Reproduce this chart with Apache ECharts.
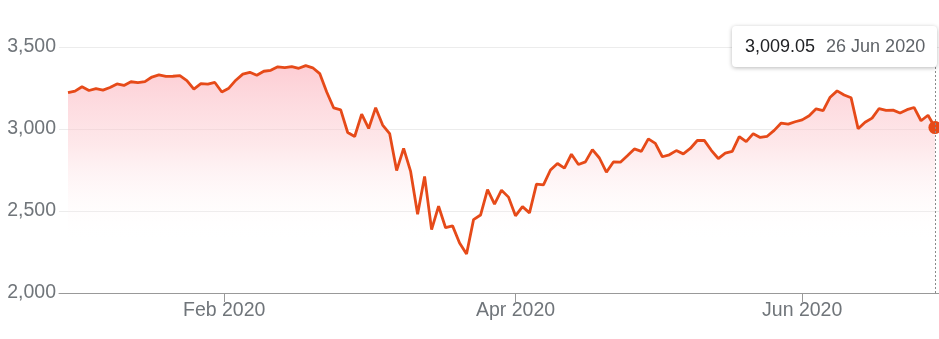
<!DOCTYPE html>
<html>
<head>
<meta charset="utf-8">
<script src="https://cdn.jsdelivr.net/npm/echarts@6/dist/echarts.min.js"></script>
<style>
html,body{margin:0;padding:0;background:#fff;}
#chart{width:939px;height:339px;}
</style>
</head>
<body>
<div id="chart"></div>
<script>
// Trading calendar (category labels)
const startDate = '2019-12-30';
const endDate = '2020-06-26';
const marketHolidays = ['2020-01-01','2020-01-20','2020-02-17','2020-04-10','2020-05-25'];

// Daily closing values, one per trading day
const closes = [
  3221.29, 3230.78,
  3257.85, 3234.85, 3246.28, 3237.18, 3253.05, 3274.70, 3265.35, 3288.13, 3283.15, 3289.29,
  3316.81, 3329.62, 3320.79, 3321.75, 3325.54, 3295.47, 3243.63, 3276.24, 3273.40, 3283.66, 3225.52,
  3248.92, 3297.59, 3334.69, 3345.78, 3327.71, 3352.09, 3357.75, 3379.45, 3373.94, 3380.16,
  3370.29, 3386.15, 3373.23, 3337.75, 3225.89, 3128.21, 3116.39, 2978.76, 2954.22,
  3090.23, 3003.37, 3130.12, 3023.94, 2972.37, 2746.56, 2882.23, 2741.38, 2480.64, 2711.02,
  2386.13, 2529.19, 2398.10, 2409.39, 2304.92, 2237.40, 2447.33, 2475.56, 2630.07, 2541.47,
  2626.65, 2584.59,
  2470.50, 2526.90, 2488.65, 2663.68, 2659.41, 2749.98, 2789.82, 2761.63, 2846.06, 2783.36,
  2799.55, 2874.56, 2823.16, 2736.56, 2799.31, 2797.80, 2836.74, 2878.48, 2863.39, 2939.51, 2912.43,
  2830.71, 2842.74, 2868.44, 2848.42, 2881.19, 2929.80, 2930.32, 2870.12, 2820.00, 2852.50,
  2863.70, 2953.91, 2922.94, 2971.61, 2948.51, 2955.45, 2991.77, 3036.13, 3029.73, 3044.31,
  3055.73, 3080.82, 3122.87, 3112.35, 3193.93, 3232.39, 3207.18, 3190.14, 3002.10, 3041.31,
  3066.59, 3124.74, 3113.49, 3115.34, 3097.74, 3117.86, 3131.29, 3050.33, 3083.76, 3009.05
];

// Axis ticks
const yTicks = [2000, 2500, 3000, 3500];
const xTickDates = ['2020-02-01', '2020-04-01', '2020-06-01'];
const xTickLabels = ['Feb 2020', 'Apr 2020', 'Jun 2020'];

const monthNames = ['Jan','Feb','Mar','Apr','May','Jun','Jul','Aug','Sep','Oct','Nov','Dec'];
const DAY = 86400000;
const toTime = s => Date.parse(s + 'T00:00:00Z');

// build trading dates
const dates = [];
for (let t = toTime(startDate); t <= toTime(endDate); t += DAY) {
  const d = new Date(t);
  const wd = d.getUTCDay();
  const iso = d.toISOString().slice(0, 10);
  if (wd === 0 || wd === 6 || marketHolidays.includes(iso)) continue;
  dates.push(iso);
}

// fractional index of a calendar date on the trading-day axis
function dateToIndex(s) {
  const t = toTime(s);
  for (let i = 0; i < dates.length - 1; i++) {
    const a = toTime(dates[i]), b = toTime(dates[i + 1]);
    if (t >= a && t <= b) return i + (t - a) / (b - a);
  }
  return 0;
}
const xTickPos = xTickDates.map(dateToIndex);

function fmtDate(s) {
  const d = new Date(toTime(s));
  return d.getUTCDate() + ' ' + monthNames[d.getUTCMonth()] + ' ' + d.getUTCFullYear();
}

const seriesData = closes.map((v, i) => [i, v]);
const lastIdx = closes.length - 1;
const FONT = 'Arial, "Liberation Sans", Helvetica, sans-serif';
const LINE = '#e64a19';

const chart = echarts.init(document.getElementById('chart'), null, {renderer: 'canvas'});
chart.setOption({
  animation: false,
  backgroundColor: '#ffffff',
  grid: {left: 59, right: 0, top: 47, bottom: 46, containLabel: false},
  tooltip: {
    trigger: 'axis',
    triggerOn: 'none',
    alwaysShowContent: true,
    transitionDuration: 0,
    showDelay: 0,
    position: [732, 26],
    padding: [9, 12, 9, 13],
    backgroundColor: '#ffffff',
    borderWidth: 0,
    extraCssText: 'box-shadow:0 1px 4px rgba(0,0,0,0.28);border-radius:4px;',
    axisPointer: {
      type: 'line',
      label: {show: false},
      lineStyle: {color: '#8a8a8a', width: 1, type: [2, 2]}
    },
    formatter: function (params) {
      const p = params[0];
      const v = p.value[1].toLocaleString('en-US', {minimumFractionDigits: 2, maximumFractionDigits: 2});
      return '<span style="font-family:' + FONT.replace(/"/g, "'") + ';font-size:18px;line-height:23px;color:#202124;">' + v +
        '</span><span style="font-family:' + FONT.replace(/"/g, "'") + ';font-size:18px;line-height:23px;color:#5f6368;margin-left:11px;">' +
        fmtDate(dates[p.dataIndex]) + '</span>';
    }
  },
  xAxis: {
    type: 'value',
    min: -1.29,
    max: lastIdx + 0.57,
    splitLine: {show: false},
    axisLine: {show: true, lineStyle: {color: '#999999', width: 1}},
    axisTick: {show: true, length: 9, customValues: xTickPos, lineStyle: {color: '#999999'}},
    axisLabel: {
      show: true,
      customValues: xTickPos,
      margin: 8,
      color: '#70757a',
      fontSize: 19.5,
      fontFamily: FONT,
      formatter: function (val) {
        let best = 0, bd = Infinity;
        xTickPos.forEach((p, i) => { const d = Math.abs(p - val); if (d < bd) { bd = d; best = i; } });
        return xTickLabels[best];
      }
    }
  },
  yAxis: {
    type: 'value',
    min: yTicks[0],
    max: yTicks[yTicks.length - 1],
    interval: yTicks[1] - yTicks[0],
    axisLine: {show: false},
    axisTick: {show: false},
    splitLine: {show: true, lineStyle: {color: '#ececec', width: 1}},
    axisLabel: {
      margin: 3,
      color: '#70757a',
      fontSize: 19.5,
      fontFamily: FONT,
      formatter: v => v.toLocaleString('en-US')
    }
  },
  series: [{
    type: 'line',
    data: seriesData,
    showSymbol: true,
    showAllSymbol: true,
    symbol: function (val, params) { return params.dataIndex === lastIdx ? 'circle' : 'none'; },
    symbolSize: 12,
    itemStyle: {color: LINE, borderWidth: 0},
    lineStyle: {color: LINE, width: 2.8},
    emphasis: {disabled: true},
    areaStyle: {
      color: new echarts.graphic.LinearGradient(0, 0, 0, 1, [
        {offset: 0, color: 'rgba(252,180,190,0.95)'},
        {offset: 0.35, color: 'rgba(252,200,206,0.6)'},
        {offset: 0.78, color: 'rgba(255,255,255,0)'}
      ])
    },
    z: 3
  }]
});
chart.dispatchAction({type: 'showTip', seriesIndex: 0, dataIndex: lastIdx});
</script>
</body>
</html>
